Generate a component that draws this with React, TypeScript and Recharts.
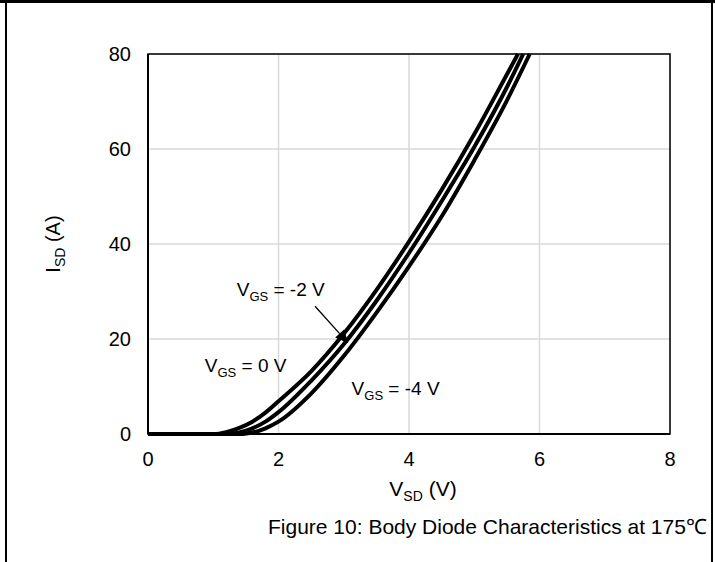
import React from "react";
import {
  LineChart,
  Line,
  XAxis,
  YAxis,
  CartesianGrid,
  ReferenceArea,
  ReferenceDot,
  ReferenceLine,
  Label,
} from "recharts";

// V_SD (V) / I_SD (A), one pair of arrays per curve
const vgs0V = [0, 1.0, 1.2, 1.4, 1.6, 1.8, 2.0, 2.5, 3.0, 3.5, 4.0, 4.5, 5.0, 5.5, 5.67];
const vgs0I = [0, 0, 0.4, 1.3, 2.6, 4.5, 6.9, 13.2, 21.1, 30.3, 40.5, 51.4, 63.1, 75.7, 80];

const vgsM2V = [0, 1.2, 1.4, 1.6, 1.8, 2.0, 2.5, 3.0, 3.5, 4.0, 4.5, 5.0, 5.5, 5.75];
const vgsM2I = [0, 0, 0.35, 1.2, 2.6, 4.6, 11.2, 18.9, 28.0, 38.1, 49.0, 60.4, 73.0, 80];

const vgsM4V = [0, 1.45, 1.6, 1.8, 2.0, 2.5, 3.0, 3.5, 4.0, 4.5, 5.0, 5.5, 5.85];
const vgsM4I = [0, 0, 0.3, 1.2, 2.6, 8.5, 16.4, 25.5, 35.3, 45.8, 57.6, 70.2, 80];

const xTicks = [0, 2, 4, 6, 8];
const yTicks = [0, 20, 40, 60, 80];

const toRows = (v: number[], i: number[]) => v.map((x, k) => ({ v: x, i: i[k] }));

const FONT = "'Liberation Sans', Arial, sans-serif";

function vgsLabel(value: string) {
  return (props: any) => {
    const { x, y } = props.viewBox;
    return (
      <text x={x} y={y} fontFamily={FONT} fontSize={19} fill="#000">
        V
        <tspan fontSize={13} dy={5}>GS</tspan>
        <tspan dy={-5}>{` = ${value} V`}</tspan>
      </text>
    );
  };
}

function Arrow(props: any) {
  const { x1, y1, x2, y2 } = props;
  const ang = Math.atan2(y2 - y1, x2 - x1);
  const len = 13;
  const w = 6;
  const bx = x2 - len * Math.cos(ang);
  const by = y2 - len * Math.sin(ang);
  const px = -Math.sin(ang) * w;
  const py = Math.cos(ang) * w;
  return (
    <g>
      <line x1={x1} y1={y1} x2={bx} y2={by} stroke="#000" strokeWidth={1.3} />
      <polygon points={`${x2},${y2} ${bx + px},${by + py} ${bx - px},${by - py}`} fill="#000" />
    </g>
  );
}

export default function App() {
  return (
    <div style={{ position: "absolute", left: 0, top: 0, width: 715, height: 562, background: "#fff" }}>
      <div style={{ position: "absolute", left: 0, top: 0, width: 715, height: 3, background: "#000" }} />
      <div style={{ position: "absolute", left: 5, top: 0, width: 2, height: 562, background: "#000" }} />
      <div style={{ position: "absolute", left: 711, top: 0, width: 2, height: 562, background: "#000" }} />
      <LineChart width={715} height={562} margin={{ top: 54, right: 45, left: 0, bottom: 0 }}>
        <CartesianGrid stroke="#d9d9d9" strokeWidth={1.5} />
        <XAxis
          type="number"
          dataKey="v"
          domain={[0, 8]}
          ticks={xTicks}
          height={128}
          tickLine={false}
          tickSize={0}
          tickMargin={18}
          axisLine={{ stroke: "#000", strokeWidth: 2 }}
          tick={{ fontSize: 20, fill: "#000", fontFamily: FONT }}
        >
          <Label
            content={(props: any) => {
              const { x, y, width } = props.viewBox;
              return (
                <text x={x + width / 2 + 14} y={y + 62} textAnchor="middle" fontFamily={FONT} fontSize={21} fill="#000">
                  V
                  <tspan fontSize={14} dy={5}>SD</tspan>
                  <tspan dy={-5}> (V)</tspan>
                </text>
              );
            }}
          />
        </XAxis>
        <YAxis
          type="number"
          domain={[0, 80]}
          ticks={yTicks}
          width={148}
          tickLine={false}
          tickSize={0}
          tickMargin={17}
          axisLine={{ stroke: "#000", strokeWidth: 2 }}
          tick={{ fontSize: 20, fill: "#000", fontFamily: FONT }}
        >
          <Label
            content={(props: any) => {
              const { y, height } = props.viewBox;
              const cx = 60;
              const cy = y + height / 2;
              return (
                <text
                  x={cx}
                  y={cy}
                  textAnchor="middle"
                  transform={`rotate(-90 ${cx} ${cy})`}
                  fontFamily={FONT}
                  fontSize={20}
                  fill="#000"
                >
                  I
                  <tspan fontSize={14} dy={5}>SD</tspan>
                  <tspan dy={-5}> (A)</tspan>
                </text>
              );
            }}
          />
        </YAxis>
        <ReferenceArea x1={0} x2={8} y1={0} y2={80} fill="none" stroke="#000" strokeWidth={1.5} />
        <Line data={toRows(vgs0V, vgs0I)} dataKey="i" type="monotone" stroke="#000" strokeWidth={4} dot={false} isAnimationActive={false} />
        <Line data={toRows(vgsM2V, vgsM2I)} dataKey="i" type="monotone" stroke="#000" strokeWidth={4} dot={false} isAnimationActive={false} />
        <Line data={toRows(vgsM4V, vgsM4I)} dataKey="i" type="monotone" stroke="#000" strokeWidth={4} dot={false} isAnimationActive={false} />
        <ReferenceLine
          segment={[
            { x: 2.56, y: 26.9 },
            { x: 3.07, y: 19.1 },
          ]}
          shape={Arrow}
        />
        <ReferenceDot x={1.36} y={29} r={0} fill="none" stroke="none">
          <Label content={vgsLabel("-2")} />
        </ReferenceDot>
        <ReferenceDot x={0.87} y={13.1} r={0} fill="none" stroke="none">
          <Label content={vgsLabel("0")} />
        </ReferenceDot>
        <ReferenceDot x={3.12} y={8.2} r={0} fill="none" stroke="none">
          <Label content={vgsLabel("-4")} />
        </ReferenceDot>
      </LineChart>
      <div
        style={{
          position: "absolute",
          left: 268,
          top: 512,
          fontFamily: FONT,
          fontSize: 21,
          color: "#000",
          whiteSpace: "nowrap",
        }}
      >
        Figure 10: Body Diode Characteristics at 175℃
      </div>
    </div>
  );
}
